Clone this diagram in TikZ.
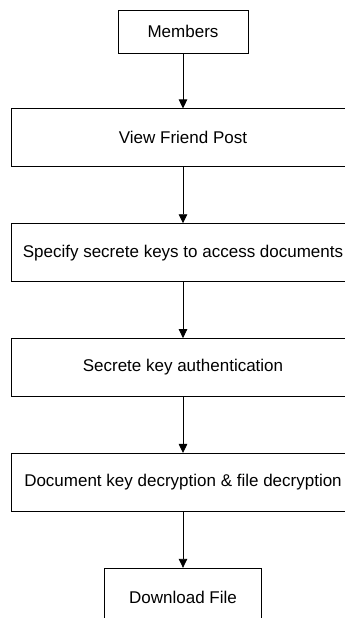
\documentclass[tikz,border=0pt]{standalone}
\usepackage{fontspec}
\setmainfont{Liberation Sans}
\usetikzlibrary{arrows.meta,positioning}

\begin{document}
\begin{tikzpicture}[
  x=1pt,y=-1pt,
  box/.style={rectangle,draw,line width=0.85pt,minimum width=130pt,
              minimum height=43pt,font=\fontsize{17}{20}\selectfont,align=center},
  wbox/.style={box,minimum width=344pt,minimum height=58pt},
  arr/.style={-{Triangle[length=9pt,width=8.5pt]},line width=0.85pt},
  node distance=56pt
]
\useasboundingbox (0,0) rectangle (345,618);
\clip (0,0) rectangle (345,618);
\node[box] (mem) at (183,31.5) {Members};
\node[wbox,below=55pt of mem] (view) {View Friend Post};
\node[wbox,below=of view] (spec) {Specify secrete keys to access documents};
\node[wbox,below=of spec] (auth) {Secrete key authentication};
\node[wbox,below=of auth] (dec) {Document key decryption \& file decryption};
\node[box,minimum width=157pt,minimum height=58pt,below=of dec] (dl) {Download File};
\draw[arr] (mem)--(view);
\draw[arr] (view)--(spec);
\draw[arr] (spec)--(auth);
\draw[arr] (auth)--(dec);
\draw[arr] (dec)--(dl);
\end{tikzpicture}
\end{document}
